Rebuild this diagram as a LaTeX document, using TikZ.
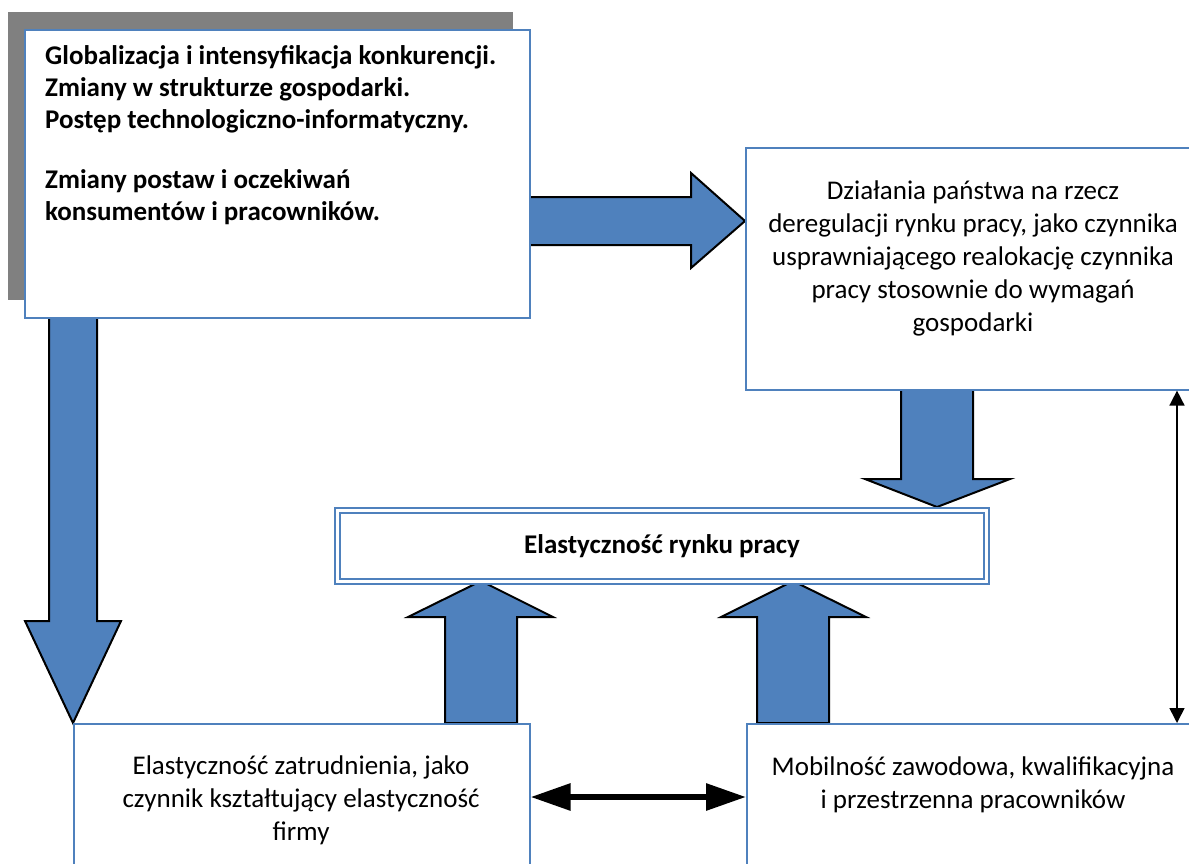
\documentclass[tikz,border=0pt]{standalone}
\usepackage{fontspec}
\setmainfont{Carlito}
\usetikzlibrary{arrows.meta}
\definecolor{accent}{HTML}{4F81BD}
\definecolor{shadowgray}{HTML}{808080}
\begin{document}
\begin{tikzpicture}[x=1pt,y=-1pt,
  box/.style={draw=accent, line width=1.6pt, fill=white, inner sep=0pt, anchor=north west},
  barrow/.style={fill=accent, draw=black, line width=2pt, line join=miter},
  txt/.style={font=\fontsize{27}{33}\selectfont, align=center, inner sep=0pt},
  btxt/.style={font=\fontsize{27}{32}\selectfont\bfseries, inner sep=0pt},
  thick2/.style={line width=6pt, {Triangle[length=40pt,width=26pt]}-{Triangle[length=40pt,width=26pt]}},
  thin2/.style={line width=1.6pt, {Triangle[length=15pt,width=15pt]}-{Triangle[length=15pt,width=15pt]}}
  ]
\useasboundingbox (0,0) rectangle (1189,864);
\clip (0,0) rectangle (1189,864);
\fill[white] (0,0) rectangle (1189,864);
% shadow
\fill[shadowgray] (8,12) rectangle (513,300);
% block arrows
\draw[barrow] (529,197) -- (691,197) -- (691,173) -- (745,221) -- (691,268) -- (691,245) -- (529,245) -- cycle;
\draw[barrow] (49,317) -- (97,317) -- (97,621) -- (121,621) -- (73,723) -- (25,621) -- (49,621) -- cycle;
\draw[barrow] (901,389) -- (973,389) -- (973,479) -- (1010,479) -- (937,507) -- (865,479) -- (901,479) -- cycle;
\draw[barrow] (445,723) -- (445,617) -- (408,617) -- (481,581) -- (553,617) -- (517,617) -- (517,723) -- cycle;
\draw[barrow] (757,723) -- (757,617) -- (721,617) -- (793,581) -- (866,617) -- (829,617) -- (829,723) -- cycle;
% boxes
\node[box, minimum width=505pt, minimum height=288pt] (tl) at (24,29) {};
\node[box, minimum width=456pt, minimum height=242pt] (rb) at (745,147) {};
\node[box, minimum width=456pt, minimum height=200pt] (bl) at (73,723) {};
\node[box, minimum width=456pt, minimum height=200pt] (br) at (746,723) {};
\node[box, draw=accent, line width=2.2pt, double=white, double distance=2.6pt,
      minimum width=649pt, minimum height=71pt] (mid) at (336.5,509.5) {};
% texts
\node[btxt, align=left, anchor=north west] (tlt) at (45,45)
  {Globalizacja i intensyfikacja konkurencji.\\
   Zmiany w strukturze gospodarki.\\
   Postęp technologiczno-informatyczny.\\[28pt]
   Zmiany postaw i oczekiwań\\
   konsumentów i pracowników.};
\node[txt, anchor=north] (rbt) at (973,181)
  {Działania państwa na rzecz\\
   deregulacji rynku pracy, jako czynnika\\
   usprawniającego realokację czynnika\\
   pracy stosownie do wymagań\\
   gospodarki};
\node[btxt] (midt) at (mid.center) {Elastyczność rynku pracy};
\node[txt, anchor=north] (blt) at (301,756)
  {Elastyczność zatrudnienia, jako\\
   czynnik kształtujący elastyczność\\
   firmy};
\node[txt, anchor=north] (brt) at (973,757)
  {Mobilność zawodowa, kwalifikacyjna\\
   i przestrzenna pracowników};
% connectors
\coordinate (dy) at (0,797);
\coordinate (vx) at (1177,0);
\draw[thick2] (bl.east |- dy) -- (br.west |- dy);
\draw[thin2] (rb.south -| vx) -- (br.north -| vx);
\end{tikzpicture}
\end{document}
